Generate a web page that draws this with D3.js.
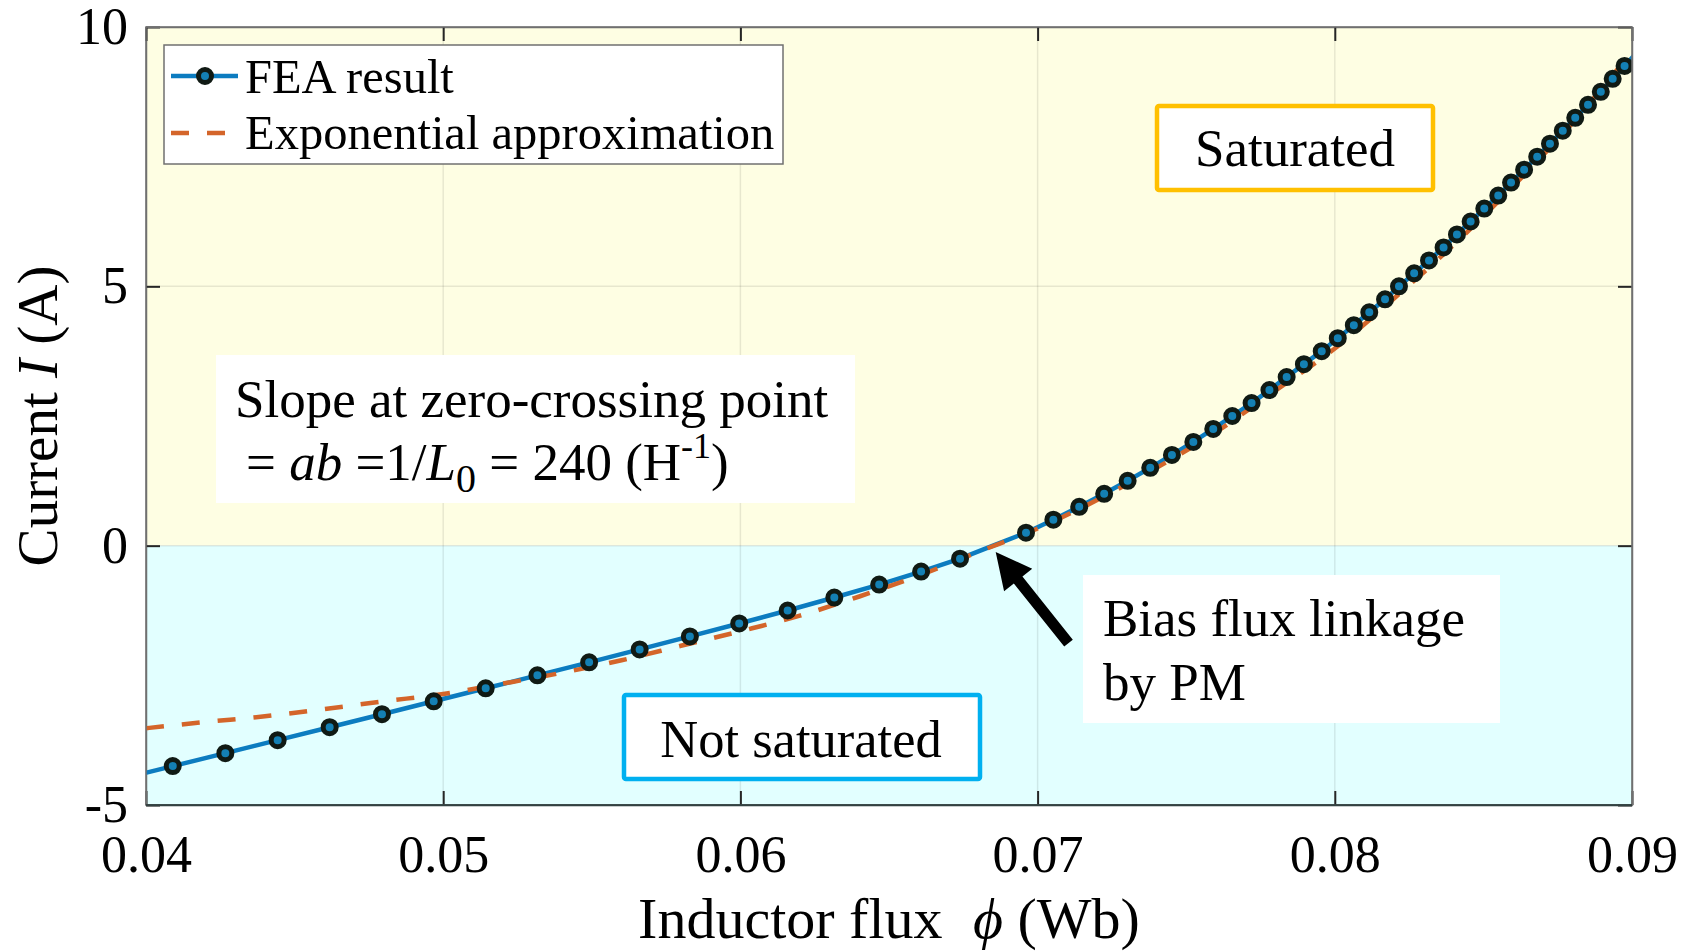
<!DOCTYPE html>
<html>
<head>
<meta charset="utf-8">
<script src="https://cdn.jsdelivr.net/npm/d3@7"></script>
<style>
  body { margin: 0; background: #fff; }
  text { font-family: "Liberation Serif", "Times New Roman", serif; fill: #000; }
</style>
</head>
<body>
<svg id="chart"></svg>
<script>
const svgWidth = 1684;
const svgHeight = 952;
const margin = {left: 146, right: 52, top: 27, bottom: 147};
const chartWidth = svgWidth - margin.left - margin.right;
const chartHeight = svgHeight - margin.top - margin.bottom;

// tick values
const xTicks = [0.04, 0.05, 0.06, 0.07, 0.08, 0.09];
const yTicks = [-5, 0, 5, 10];

// FEA result (current steps, flux)
const feaCurrent = [-4.5, -4.25, -4, -3.75, -3.5, -3.25, -3, -2.75, -2.5, -2.25, -2,
  -1.75, -1.5, -1.25, -1, -0.75, -0.5, -0.25, 0, 0.25, 0.5, 0.75, 1, 1.25, 1.5,
  1.75, 2, 2.25, 2.5, 2.75, 3, 3.25, 3.5, 3.75, 4, 4.25, 4.5, 4.75, 5, 5.25, 5.5,
  5.75, 6, 6.25, 6.5, 6.75, 7, 7.25, 7.5, 7.75, 8, 8.25, 8.5, 8.75, 9, 9.25, 9.5];
const feaFlux = [0.03913, 0.04090, 0.04267, 0.04443, 0.04618, 0.04794, 0.04968,
  0.05143, 0.05317, 0.05491, 0.05661, 0.05830, 0.05996, 0.06159, 0.06316, 0.06467,
  0.06608, 0.06739, 0.06850, 0.06961, 0.07053, 0.07140, 0.07224, 0.07303, 0.07379,
  0.07452, 0.07524, 0.07591, 0.07655, 0.07720, 0.07780, 0.07838, 0.07896, 0.07956,
  0.08010, 0.08064, 0.08116, 0.08169, 0.08216, 0.08267, 0.08317, 0.08366, 0.08411,
  0.08457, 0.08503, 0.08550, 0.08593, 0.08637, 0.08681, 0.08724, 0.08767, 0.08809,
  0.08852, 0.08895, 0.08935, 0.08975, 0.09015];
// points of the line that carry no marker
const unmarked = [-4.5, 0, 9.5];

// exponential approximation
const expFlux = [0.040, 0.042, 0.044, 0.046, 0.048, 0.050, 0.052, 0.054, 0.056,
  0.058, 0.060, 0.062, 0.064, 0.066, 0.068, 0.070, 0.072, 0.074, 0.076, 0.078,
  0.080, 0.082, 0.084, 0.086, 0.088, 0.090];
const expCurrent = [-3.52, -3.40, -3.29, -3.15, -3.00, -2.86, -2.66, -2.45, -2.21,
  -1.93, -1.65, -1.35, -0.98, -0.58, -0.12, 0.33, 0.88, 1.50, 2.19, 2.99, 3.80,
  4.77, 5.80, 6.93, 8.15, 9.53];

// shaded regions (current ranges)
const saturatedRange = [0, 10];
const notSaturatedRange = [-5, 0];

// arrow: tail and tip in data units (flux, current)
const arrowTail = [0.07104, -1.88];
const arrowTip = [0.06859, -0.12];

const svg = d3.select('#chart')
  .attr('width', svgWidth)
  .attr('height', svgHeight);

const g = svg.append('g')
  .attr('transform', `translate(${margin.left}, ${margin.top})`);

const xScale = d3.scaleLinear().domain([0.04, 0.09]).range([0, chartWidth]);
const yScale = d3.scaleLinear().domain([-5, 10]).range([chartHeight, 0]);

svg.append('defs').append('clipPath')
  .attr('id', 'plotClip')
  .append('rect')
  .attr('width', chartWidth)
  .attr('height', chartHeight);

// background regions
g.append('rect')
  .attr('x', 0).attr('width', chartWidth)
  .attr('y', yScale(saturatedRange[1]))
  .attr('height', yScale(saturatedRange[0]) - yScale(saturatedRange[1]))
  .attr('fill', '#fefee3');
g.append('rect')
  .attr('x', 0).attr('width', chartWidth)
  .attr('y', yScale(notSaturatedRange[1]))
  .attr('height', yScale(notSaturatedRange[0]) - yScale(notSaturatedRange[1]))
  .attr('fill', '#e2ffff');

// grid
g.append('g').selectAll('line')
  .data(xTicks)
  .enter().append('line')
  .attr('x1', d => xScale(d)).attr('x2', d => xScale(d))
  .attr('y1', 0).attr('y2', chartHeight)
  .attr('stroke', '#000').attr('stroke-opacity', 0.09).attr('stroke-width', 1.5);
g.append('g').selectAll('line')
  .data(yTicks)
  .enter().append('line')
  .attr('x1', 0).attr('x2', chartWidth)
  .attr('y1', d => yScale(d)).attr('y2', d => yScale(d))
  .attr('stroke', '#000').attr('stroke-opacity', 0.09).attr('stroke-width', 1.5);

// axes
const xAxis = d3.axisBottom(xScale).tickValues(xTicks)
  .tickFormat(d3.format('.2f')).tickSizeInner(-14).tickSizeOuter(0).tickPadding(30);
const yAxis = d3.axisLeft(yScale).tickValues(yTicks)
  .tickFormat(d => String(d)).tickSizeInner(-14).tickSizeOuter(0).tickPadding(18);

const xAxisG = g.append('g')
  .attr('transform', `translate(0, ${chartHeight})`)
  .call(xAxis);
const yAxisG = g.append('g').call(yAxis);

g.append('g')
  .call(d3.axisTop(xScale).tickValues(xTicks).tickFormat('').tickSizeInner(-14).tickSizeOuter(0));
g.append('g')
  .attr('transform', `translate(${chartWidth}, 0)`)
  .call(d3.axisRight(yScale).tickValues(yTicks).tickFormat('').tickSizeInner(-14).tickSizeOuter(0));

g.selectAll('.domain').attr('stroke', '#707070').attr('stroke-width', 1.5);
xAxisG.select('.domain').attr('stroke', '#263838');
g.selectAll('.tick line').attr('stroke', '#262626').attr('stroke-width', 2);
g.selectAll('.tick text')
  .style('font-family', '"Liberation Serif", serif')
  .style('font-size', '52px')
  .attr('fill', '#262626');

// curves
const plot = g.append('g').attr('clip-path', 'url(#plotClip)');

const feaData = feaFlux.map((f, i) => ({flux: f, current: feaCurrent[i]}));
const expData = expFlux.map((f, i) => ({flux: f, current: expCurrent[i]}));

const line = d3.line()
  .x(d => xScale(d.flux))
  .y(d => yScale(d.current));

plot.append('path')
  .datum(feaData)
  .attr('d', line)
  .attr('fill', 'none')
  .attr('stroke', '#0c7cc0')
  .attr('stroke-width', 4.5);

plot.append('path')
  .datum(expData)
  .attr('d', line.curve(d3.curveMonotoneX))
  .attr('fill', 'none')
  .attr('stroke', '#d4652a')
  .attr('stroke-width', 4.5)
  .attr('stroke-dasharray', '18 18');

plot.selectAll('circle')
  .data(feaData.filter(d => !unmarked.includes(d.current)))
  .enter().append('circle')
  .attr('cx', d => xScale(d.flux))
  .attr('cy', d => yScale(d.current))
  .attr('r', 6.5)
  .attr('fill', '#1480b4')
  .attr('stroke', '#101a14')
  .attr('stroke-width', 5);

// axis box outline drawn last so curves don't cover it
g.append('rect')
  .attr('width', chartWidth).attr('height', chartHeight)
  .attr('fill', 'none').attr('stroke', '#707070').attr('stroke-width', 1.5);
g.append('line')
  .attr('x1', 0).attr('x2', chartWidth)
  .attr('y1', chartHeight).attr('y2', chartHeight)
  .attr('stroke', '#263838').attr('stroke-width', 1.5);

// axis labels
svg.append('text')
  .attr('x', margin.left + chartWidth / 2)
  .attr('y', 938)
  .attr('text-anchor', 'middle')
  .style('font-size', '58px')
  .attr('fill', '#262626')
  .html('Inductor flux <tspan font-style="italic" dx="16">ϕ</tspan> (Wb)');

svg.append('text')
  .attr('transform', `translate(57, ${margin.top + chartHeight / 2}) rotate(-90)`)
  .attr('text-anchor', 'middle')
  .style('font-size', '57px')
  .attr('fill', '#262626')
  .html('Current <tspan font-style="italic">I</tspan> (A)');

// legend
const legend = svg.append('g');
legend.append('rect')
  .attr('x', 164).attr('y', 45).attr('width', 619).attr('height', 119)
  .attr('fill', '#fff').attr('stroke', '#707070').attr('stroke-width', 1.5);
legend.append('line')
  .attr('x1', 171).attr('x2', 238).attr('y1', 76).attr('y2', 76)
  .attr('stroke', '#0c7cc0').attr('stroke-width', 4.5);
legend.append('circle')
  .attr('cx', 205).attr('cy', 76).attr('r', 6.5)
  .attr('fill', '#1480b4').attr('stroke', '#101a14').attr('stroke-width', 5);
legend.append('line')
  .attr('x1', 171).attr('x2', 238).attr('y1', 133).attr('y2', 133)
  .attr('stroke', '#d4652a').attr('stroke-width', 4.5).attr('stroke-dasharray', '18 18');
legend.append('text').attr('x', 245).attr('y', 93)
  .style('font-size', '48.5px').text('FEA result');
legend.append('text').attr('x', 245).attr('y', 149)
  .style('font-size', '48.5px').text('Exponential approximation');

// slope annotation
svg.append('rect')
  .attr('x', 216).attr('y', 355).attr('width', 639).attr('height', 148)
  .attr('fill', '#fff');
svg.append('text').attr('x', 235).attr('y', 417)
  .style('font-size', '53px').text('Slope at zero-crossing point');
svg.append('text').attr('x', 246).attr('y', 480)
  .style('font-size', '53px')
  .html('= <tspan font-style="italic">ab</tspan> =1/<tspan font-style="italic">L</tspan>' +
    '<tspan dy="12" font-size="40px">0</tspan><tspan dy="-12"> = 240 (H</tspan>' +
    '<tspan dy="-22" font-size="36px">-1</tspan><tspan dy="22">)</tspan>');

// saturated box
svg.append('rect')
  .attr('x', 1157).attr('y', 106).attr('width', 276).attr('height', 84)
  .attr('rx', 2)
  .attr('fill', '#fff').attr('stroke', '#ffc000').attr('stroke-width', 4.5);
svg.append('text').attr('x', 1295).attr('y', 166)
  .attr('text-anchor', 'middle')
  .style('font-size', '53px').text('Saturated');

// not saturated box
svg.append('rect')
  .attr('x', 624).attr('y', 695).attr('width', 356).attr('height', 84)
  .attr('rx', 2)
  .attr('fill', '#fff').attr('stroke', '#00b0f0').attr('stroke-width', 4.5);
svg.append('text').attr('x', 801).attr('y', 757)
  .attr('text-anchor', 'middle')
  .style('font-size', '52.5px').text('Not saturated');

// bias flux annotation
svg.append('rect')
  .attr('x', 1083).attr('y', 575).attr('width', 417).attr('height', 148)
  .attr('fill', '#fff');
svg.append('text').attr('x', 1103).attr('y', 636)
  .style('font-size', '53px').text('Bias flux linkage');
svg.append('text').attr('x', 1103).attr('y', 700)
  .style('font-size', '53px').text('by PM');

// arrow
const tail = [margin.left + xScale(arrowTail[0]), margin.top + yScale(arrowTail[1])];
const tip = [margin.left + xScale(arrowTip[0]), margin.top + yScale(arrowTip[1])];
const dx = tip[0] - tail[0], dy = tip[1] - tail[1];
const len = Math.hypot(dx, dy);
const ux = dx / len, uy = dy / len;
const px = -uy, py = ux;
const headLen = 36, headHalf = 18, shaftHalf = 5.5;
const base = [tip[0] - ux * headLen, tip[1] - uy * headLen];
const arrowPts = [
  [tail[0] + px * shaftHalf, tail[1] + py * shaftHalf],
  [base[0] + px * shaftHalf, base[1] + py * shaftHalf],
  [base[0] + px * headHalf, base[1] + py * headHalf],
  tip,
  [base[0] - px * headHalf, base[1] - py * headHalf],
  [base[0] - px * shaftHalf, base[1] - py * shaftHalf],
  [tail[0] - px * shaftHalf, tail[1] - py * shaftHalf]
];
svg.append('path')
  .attr('d', d3.line()(arrowPts) + 'Z')
  .attr('fill', '#000');
</script>
</body>
</html>
